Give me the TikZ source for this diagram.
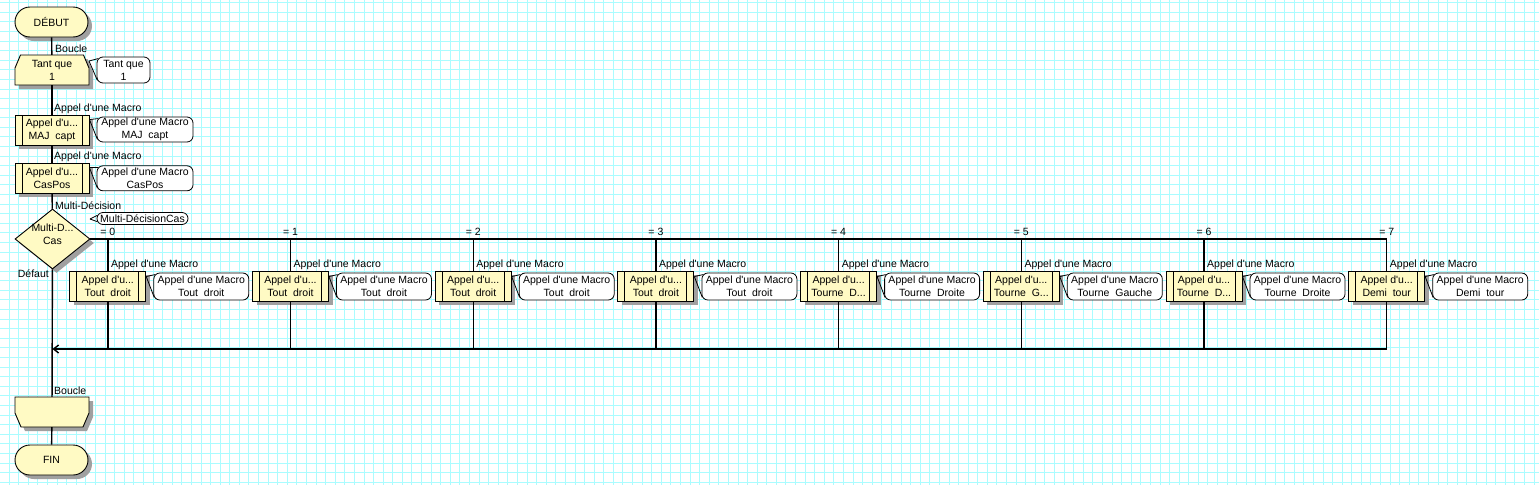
\documentclass[tikz,border=0pt]{standalone}
\usepackage{fontspec}
\setmainfont{Liberation Sans}[Ligatures=TeXOff]
\usetikzlibrary{shapes.geometric,shapes.misc,shadows,arrows.meta}
\definecolor{gridc}{RGB}{170,252,255}
\definecolor{boxfill}{RGB}{255,250,196}
\definecolor{shadowc}{RGB}{160,160,160}
\newcommand\fsz{\fontsize{10.5pt}{13pt}\selectfont}
\newcommand\tdd{...}
\begin{document}
\begin{tikzpicture}[x=1pt,y=-1pt,
  every node/.style={font=\fsz, inner sep=0pt, align=center},
  shad/.style={drop shadow={shadow xshift=4pt,shadow yshift=-4pt,fill=shadowc,opacity=1}},
  term/.style={draw, line width=.9pt, fill=boxfill, shad, rounded corners=15pt, minimum width=73pt, minimum height=30pt},
  loopshape/.style={draw, line width=.9pt, fill=boxfill, shad},
  loopnode/.style={minimum width=74pt, minimum height=30pt},
  macro/.style={draw, line width=.9pt, fill=boxfill, shad, minimum width=76pt, minimum height=30pt,
     path picture={\draw[line width=.9pt] ([xshift=7pt]path picture bounding box.north west) -- ([xshift=7pt]path picture bounding box.south west)
        ([xshift=-7pt]path picture bounding box.north east) -- ([xshift=-7pt]path picture bounding box.south east);}},
  dia/.style={diamond, draw, line width=.9pt, fill=boxfill, shad, minimum width=75pt, minimum height=60pt},
  cmt/.style={draw, line width=.8pt, fill=white, rounded corners=6pt, minimum width=95pt, minimum height=26pt},
  ptr/.style={draw, line width=.8pt},
  conn/.style={draw, line width=1.4pt}
]
\useasboundingbox (0,0) rectangle (1539,485);
\fill[white] (0,0) rectangle (1539,485);
\foreach \i in {0,...,159} \draw[gridc, line width=1pt] ({9.2+9.59*\i},0) -- ++(0,485);
\foreach \i in {0,...,50} \draw[gridc, line width=1pt] (0,{2.7+9.59*\i}) -- ++(1539,0);

% main column
\node[term] (debut) at (51.5,22) {DÉBUT};
\path[loopshape] (20.5,55) -- (83.5,55) -- (89,68) -- (89,85) -- (15,85) -- (15,68) -- cycle;
\node[loopnode] (lb) at (52,70) {Tant que\\1};
\node[macro, minimum width=74pt] (m1) at (52,130) {Appel d'u\tdd\\MAJ\ \ capt};
\node[macro, minimum width=74pt] (m2) at (52,178) {Appel d'u\tdd\\CasPos};
\node[dia] (dec) at (52.5,239) {};
\node (dect) at (52.5,234) {Multi-D\tdd\\Cas};
\path[loopshape] (15,397) -- (89,397) -- (89,413) -- (83,427) -- (21,427) -- (15,413) -- cycle;
\node[loopnode] (le) at (52,412) {};
\node[term] (fin) at (51.5,460) {FIN};

% labels main column
\node[anchor=west] (l1) at (55,49) {Boucle};
\node[anchor=west] (l2) at (54,109) {Appel d'une Macro};
\node[anchor=west] (l3) at (54,157) {Appel d'une Macro};
\node[anchor=west] (l4) at (55,205.5) {Multi-Décision};
\node[anchor=east] (l5) at (49,273.5) {Défaut};
\node[anchor=west] (l6) at (54,391) {Boucle};

% comments main column
\node[cmt, minimum width=53pt] (k0) at (123.5,70) {Tant que\\1};
\coordinate (lba) at (89,61);
\draw[ptr] (lba) -- ([xshift=1.5pt,yshift=-2pt]k0.north west);
\draw[ptr] (lba) -- ([xshift=0.8pt,yshift=3pt]k0.south west);
\node[cmt, minimum width=96pt, minimum height=25pt] (km1) at (145,129.5) {Appel d'une Macro\\MAJ\ \ capt};
\draw[ptr] ([yshift=-5pt]m1.north east) -- ([xshift=1.5pt,yshift=-2pt]km1.north west);
\draw[ptr] ([yshift=-5pt]m1.north east) -- ([xshift=0.8pt,yshift=3pt]km1.south west);
\node[cmt, minimum width=96pt, minimum height=25pt] (km2) at (145,178.3) {Appel d'une Macro\\CasPos};
\draw[ptr] ([yshift=-5pt]m2.north east) -- ([xshift=1.5pt,yshift=-2pt]km2.north west);
\draw[ptr] ([yshift=-5pt]m2.north east) -- ([xshift=0.8pt,yshift=3pt]km2.south west);
\node[cmt, minimum width=91pt, minimum height=12pt] (kd) at (142.5,218.5) {Multi-DécisionCas};
\coordinate (kda) at (90,219);
\draw[ptr] (kda) -- ([xshift=1pt,yshift=3.3pt]kd.west);
\draw[ptr] (kda) -- ([xshift=1pt,yshift=-3.3pt]kd.west);

% cases
\foreach \i/\t/\full in {0/Tout\ \ droit/Tout\ \ droit,1/Tout\ \ droit/Tout\ \ droit,2/Tout\ \ droit/Tout\ \ droit,3/Tout\ \ droit/Tout\ \ droit,4/Tourne\ \ D\tdd/Tourne\ \ Droite,5/Tourne\ \ G\tdd/Tourne\ \ Gauche,6/Tourne\ \ D\tdd/Tourne\ \ Droite,7/Demi\ \ tour/Demi\ \ tour}{
  \pgfmathsetmacro\xx{107.8+182.7*\i}
  \node[macro] (c\i) at (\xx,286) {Appel d'u\tdd\\\t};
  \node[cmt, minimum height=27pt] (kc\i) at (\xx+93.5,286.5) {Appel d'une Macro\\\full};
  \draw[ptr] ([yshift=-6pt]c\i.north east) -- ([xshift=1.5pt,yshift=-2pt]kc\i.north west);
  \draw[ptr] ([yshift=-6pt]c\i.north east) -- ([xshift=0.8pt,yshift=3pt]kc\i.south west);
  \node[anchor=west] (a\i) at (\xx+3,265) {Appel d'une Macro};
  \node (e\i) at (\xx,232) {= \i};
  \coordinate (t\i) at (\xx,239);
  \coordinate (b\i) at (\xx,349);
}
\coordinate (mrg) at (52.5,349);

% connectors
\draw[conn] (debut) -- (lb);
\draw[conn] (lb) -- (m1);
\draw[conn] (m1) -- (m2);
\draw[conn] (m2) -- (dec);
\draw[conn] (dec) -- (le);
\draw[conn] (le) -- (fin);
\draw[conn] (dec.east) -- (t7) -- (c7.north);
\foreach \i in {0,...,6} \draw[conn] (t\i) -- (c\i.north);
\foreach \i in {0,...,7} \draw[conn] (c\i.south) -- (b\i);
\draw[conn, -{Straight Barb[length=5pt,width=8pt]}] (b7) -- (mrg);
\end{tikzpicture}
\end{document}
